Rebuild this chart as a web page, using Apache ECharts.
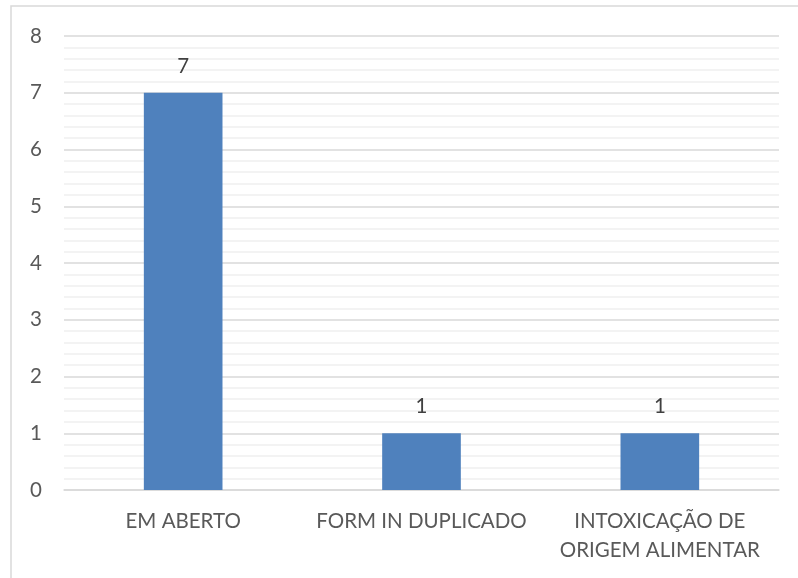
<!DOCTYPE html>
<html>
<head>
<meta charset="utf-8">
<script src="https://cdn.jsdelivr.net/npm/echarts@6/dist/echarts.min.js"></script>
<style>html,body{margin:0;padding:0;background:#fff;}#c{width:798px;height:578px;}</style>
</head>
<body>
<div id="c"></div>
<script>
const categories = ['EM ABERTO', 'FORM IN DUPLICADO', 'INTOXICAÇÃO DE\nORIGEM ALIMENTAR'];
const values = [7, 1, 1];
const yTicks = [0, 1, 2, 3, 4, 5, 6, 7, 8];

const chart = echarts.init(document.getElementById('c'));
const font = 'Lato, "Open Sans", sans-serif';
chart.setOption({
  animation: false,
  backgroundColor: '#fff',
  graphic: [{
    type: 'rect', silent: true, z: -1,
    shape: { x: 11, y: 6, width: 900, height: 700 },
    style: { fill: 'none', stroke: '#d9d9d9', lineWidth: 1.5 }
  }],
  grid: { left: 64, right: 19, top: 36, bottom: 88, containLabel: false },
  xAxis: {
    type: 'category',
    data: categories,
    axisTick: { show: false },
    axisLine: { show: true, lineStyle: { color: '#d9d9d9', width: 1.5 } },
    axisLabel: { color: '#595959', fontSize: 20.5, fontFamily: font, margin: 17, lineHeight: 29, interval: 0 }
  },
  yAxis: {
    type: 'value',
    min: yTicks[0], max: yTicks[yTicks.length - 1], interval: 1,
    axisLine: { show: false }, axisTick: { show: false },
    axisLabel: { color: '#595959', fontSize: 20.5, fontFamily: font, margin: 22 },
    splitLine: { show: true, lineStyle: { color: '#d9d9d9', width: 1.5 } },
    minorTick: { show: false, splitNumber: 5 },
    minorSplitLine: { show: true, lineStyle: { color: '#f0f0f0', width: 1.5 } }
  },
  series: [{
    type: 'bar',
    data: values,
    barWidth: '33%',
    itemStyle: { color: '#4f81bd' },
    label: { show: true, position: 'top', distance: 16, color: '#404040', fontSize: 20.5, fontFamily: font }
  }]
});
</script>
</body>
</html>
